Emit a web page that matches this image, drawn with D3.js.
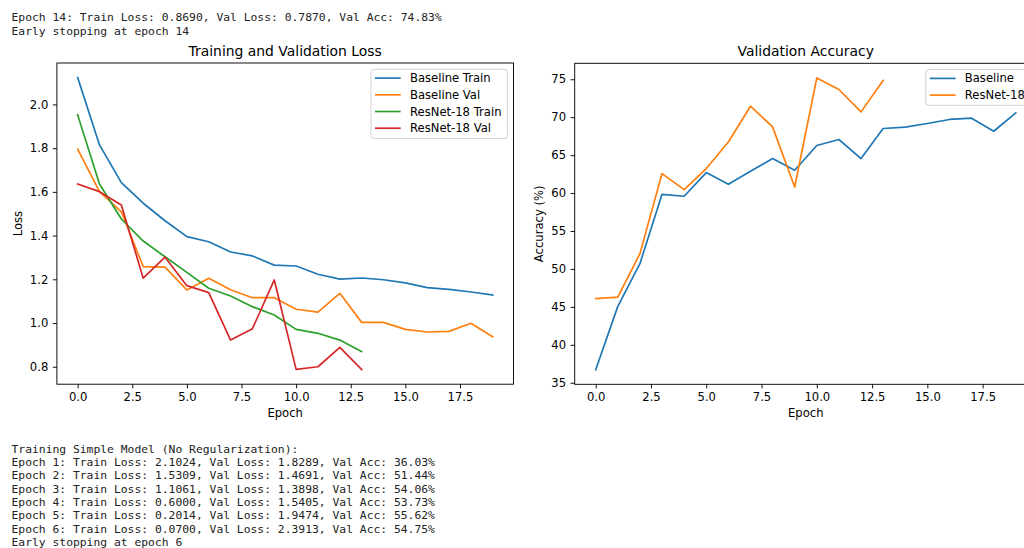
<!DOCTYPE html>
<html>
<head>
<meta charset="utf-8">
<script src="https://cdn.jsdelivr.net/npm/d3@7"></script>
<style>
  html, body { margin: 0; padding: 0; background: #fff; overflow: hidden; }
  svg { display: block; }
</style>
</head>
<body>
<svg id="fig" width="1024" height="548"></svg>
<script>
// ---- training history ----
const epochs = d3.range(0, 20);

const baselineTrainLoss = [2.1227, 1.8147, 1.642, 1.548, 1.468, 1.395, 1.372, 1.325, 1.307, 1.265,
                           1.261, 1.223, 1.201, 1.206, 1.198, 1.184, 1.162, 1.154, 1.142, 1.128];
const baselineValLoss   = [1.795, 1.601, 1.509, 1.258, 1.256, 1.151, 1.205, 1.152, 1.116, 1.116,
                           1.063, 1.050, 1.136, 1.003, 1.003, 0.971, 0.959, 0.962, 0.999, 0.937];
const resnetTrainLoss   = [1.952, 1.636, 1.476, 1.375, 1.303, 1.232, 1.159, 1.124, 1.075, 1.037,
                           0.971, 0.953, 0.922, 0.8690];
const resnetValLoss     = [1.636, 1.601, 1.540, 1.205, 1.301, 1.171, 1.139, 0.922, 0.974, 1.197,
                           0.788, 0.800, 0.889, 0.7870];

const baselineValAcc = [36.72, 45.07, 50.70, 59.84, 59.58, 62.70, 61.16, 62.87, 64.55, 63.00,
                        66.27, 67.06, 64.55, 68.51, 68.68, 69.17, 69.70, 69.87, 68.15, 70.57];
const resnetValAcc   = [46.08, 46.29, 52.02, 62.57, 60.46, 63.23, 66.74, 71.45, 68.72, 60.80,
                        75.18, 73.65, 70.70, 74.83];

// ---- tick labels ----
const epochTicks = [0, 2.5, 5, 7.5, 10, 12.5, 15, 17.5];
const lossTicks = [0.8, 1.0, 1.2, 1.4, 1.6, 1.8, 2.0];
const accTicks = [35, 40, 45, 50, 55, 60, 65, 70, 75];

// ---- console output printed around the figure ----
const logTop = [
  "Epoch 14: Train Loss: 0.8690, Val Loss: 0.7870, Val Acc: 74.83%",
  "Early stopping at epoch 14"
];
const logBottom = [
  "Training Simple Model (No Regularization):",
  "Epoch 1: Train Loss: 2.1024, Val Loss: 1.8289, Val Acc: 36.03%",
  "Epoch 2: Train Loss: 1.5309, Val Loss: 1.4691, Val Acc: 51.44%",
  "Epoch 3: Train Loss: 1.1061, Val Loss: 1.3898, Val Acc: 54.06%",
  "Epoch 4: Train Loss: 0.6000, Val Loss: 1.5405, Val Acc: 53.73%",
  "Epoch 5: Train Loss: 0.2014, Val Loss: 1.9474, Val Acc: 55.62%",
  "Epoch 6: Train Loss: 0.0700, Val Loss: 2.3913, Val Acc: 54.75%",
  "Early stopping at epoch 6"
];

const C = { blue: "#1f77b4", orange: "#ff7f0e", green: "#2ca02c", red: "#d62728" };
const FONT = "'DejaVu Sans', sans-serif";
const MONO = "'DejaVu Sans Mono', monospace";
const FS = 11.6;     // tick / label / legend size
const FS_TITLE = 13.9;

const svg = d3.select("#fig");

// console text
function drawLog(lines, y0, step) {
  svg.append("g").selectAll("text").data(lines).join("text")
    .attr("x", 11.5)
    .attr("y", (d, i) => y0 + i * step)
    .attr("font-family", MONO)
    .attr("font-size", 11.35)
    .attr("fill", "#222")
    .style("white-space", "pre")
    .text(d => d);
}
drawLog(logTop, 21.2, 13.33);
drawLog(logBottom, 452.7, 13.33);

// matplotlib-like autoscale with 5% margins
function padded(values) {
  const [lo, hi] = d3.extent(values);
  const p = (hi - lo) * 0.05;
  return [lo - p, hi + p];
}

function panel(opt) {
  const { left, right, top, bottom } = opt;
  const x = d3.scaleLinear().domain(padded(epochs)).range([left, right]);
  const y = d3.scaleLinear().domain(padded(opt.series.flatMap(s => s.values))).range([bottom, top]);

  const g = svg.append("g");
  const clipId = "clip" + Math.round(left);
  g.append("clipPath").attr("id", clipId)
    .append("rect").attr("x", left).attr("y", top).attr("width", right - left).attr("height", bottom - top);

  // axes
  const xAxis = d3.axisBottom(x).tickValues(epochTicks).tickFormat(d3.format(".1f")).tickSize(4.1).tickPadding(4.5);
  const yAxis = d3.axisLeft(y).tickValues(opt.yTicks).tickFormat(d3.format(opt.yFormat)).tickSize(4.1).tickPadding(4.5);

  const gx = g.append("g").attr("transform", `translate(0,${bottom})`).call(xAxis);
  const gy = g.append("g").attr("transform", `translate(${left},0)`).call(yAxis);
  [gx, gy].forEach(a => {
    a.select(".domain").remove();
    a.selectAll(".tick line").attr("stroke", "#000").attr("stroke-width", 0.93);
    a.selectAll(".tick text").attr("font-family", FONT).attr("font-size", FS).attr("fill", "#000");
  });

  // lines
  const line = d3.line().x((d, i) => x(epochs[i])).y(d => y(d));
  g.append("g").attr("clip-path", `url(#${clipId})`)
    .selectAll("path").data(opt.series).join("path")
    .attr("d", s => line(s.values))
    .attr("fill", "none")
    .attr("stroke", s => s.color)
    .attr("stroke-width", 1.7)
    .attr("stroke-linejoin", "round")
    .attr("stroke-linecap", "square");

  // frame
  g.append("rect").attr("x", left).attr("y", top).attr("width", right - left).attr("height", bottom - top)
    .attr("fill", "none").attr("stroke", "#000").attr("stroke-width", 0.93);

  // titles
  g.append("text").attr("x", (left + right) / 2).attr("y", top - 7)
    .attr("text-anchor", "middle").attr("font-family", FONT).attr("font-size", FS_TITLE).attr("fill", "#000")
    .text(opt.title);
  g.append("text").attr("x", (left + right) / 2).attr("y", bottom + 32.5)
    .attr("text-anchor", "middle").attr("font-family", FONT).attr("font-size", FS).attr("fill", "#000")
    .text("Epoch");
  g.append("text")
    .attr("transform", `translate(${opt.ylabelX},${(top + bottom) / 2}) rotate(-90)`)
    .attr("text-anchor", "middle").attr("font-family", FONT).attr("font-size", FS).attr("fill", "#000")
    .text(opt.ylabel);

  // legend, upper right
  const lg = g.append("g");
  const box = lg.append("rect");
  const rowH = 16.7;
  const items = lg.selectAll("g").data(opt.series).join("g")
    .attr("transform", (d, i) => `translate(0,${top + 15.1 + i * rowH})`);
  const labels = items.append("text")
    .attr("font-family", FONT).attr("font-size", FS).attr("fill", "#000")
    .attr("dy", "0.35em").text(d => d.name);
  const textW = d3.max(labels.nodes(), n => n.getComputedTextLength());
  const boxRight = right - 6.2;
  const boxW = 39 + textW + 5.8;
  const boxLeft = boxRight - boxW;
  box.attr("x", boxLeft).attr("y", top + 6.3).attr("width", boxW)
    .attr("height", opt.series.length * rowH + 2.3)
    .attr("rx", 2.5).attr("fill", "#fff").attr("fill-opacity", 0.8)
    .attr("stroke", "#cccccc").attr("stroke-width", 0.93);
  labels.attr("x", boxLeft + 39);
  items.append("line")
    .attr("x1", boxLeft + 4).attr("x2", boxLeft + 29.7)
    .attr("stroke", d => d.color).attr("stroke-width", 1.7);
}

panel({
  left: 56.9, right: 513.5, top: 63, bottom: 384.2,
  title: "Training and Validation Loss", ylabel: "Loss", ylabelX: 22,
  yTicks: lossTicks, yFormat: ".1f",
  series: [
    { name: "Baseline Train", color: C.blue, values: baselineTrainLoss },
    { name: "Baseline Val", color: C.orange, values: baselineValLoss },
    { name: "ResNet-18 Train", color: C.green, values: resnetTrainLoss },
    { name: "ResNet-18 Val", color: C.red, values: resnetValLoss }
  ]
});

panel({
  left: 574.7, right: 1036.8, top: 63.3, bottom: 384.3,
  title: "Validation Accuracy", ylabel: "Accuracy (%)", ylabelX: 543,
  yTicks: accTicks, yFormat: "d",
  series: [
    { name: "Baseline", color: C.blue, values: baselineValAcc },
    { name: "ResNet-18", color: C.orange, values: resnetValAcc }
  ]
});
</script>
</body>
</html>
